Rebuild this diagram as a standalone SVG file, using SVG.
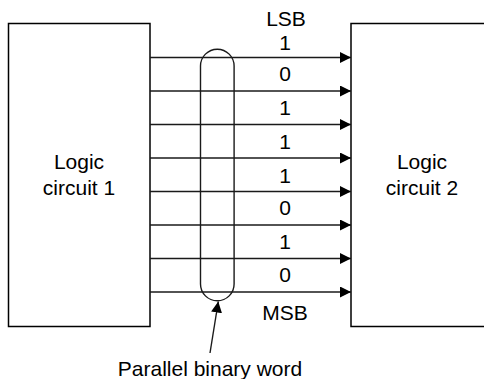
<svg xmlns="http://www.w3.org/2000/svg" width="484" height="379" viewBox="0 0 484 379">
<style>
.box{fill:#fff;stroke:#000;stroke-width:1.5}
.wire{stroke:#1a1a1a;stroke-width:1.4;fill:none}
.t{font-family:"Liberation Sans",Arial,sans-serif;font-size:21px;fill:#000;text-anchor:middle}
</style>
<defs>
<marker id="ah" markerWidth="12" markerHeight="11" refX="11" refY="5.5" orient="auto" markerUnits="userSpaceOnUse">
<path d="M0,0 L11,5.5 L0,11 Z" fill="#000"/>
</marker>
</defs>
<g id="circuit1">
<rect class="box" x="8.5" y="23.5" width="141.5" height="303"/>
<text class="t" x="79" y="168.5">Logic</text>
<text class="t" x="79" y="195">circuit 1</text>
</g>
<g id="circuit2">
<rect class="box" x="351" y="23.5" width="150" height="303"/>
<text class="t" x="422" y="168.5">Logic</text>
<text class="t" x="422" y="195">circuit 2</text>
</g>
<g id="connectors">
<line class="wire" x1="150" y1="57.5" x2="351" y2="57.5" marker-end="url(#ah)"/>
<line class="wire" x1="150" y1="91" x2="351" y2="91" marker-end="url(#ah)"/>
<line class="wire" x1="150" y1="124.5" x2="351" y2="124.5" marker-end="url(#ah)"/>
<line class="wire" x1="150" y1="158" x2="351" y2="158" marker-end="url(#ah)"/>
<line class="wire" x1="150" y1="191.5" x2="351" y2="191.5" marker-end="url(#ah)"/>
<line class="wire" x1="150" y1="225" x2="351" y2="225" marker-end="url(#ah)"/>
<line class="wire" x1="150" y1="258.5" x2="351" y2="258.5" marker-end="url(#ah)"/>
<line class="wire" x1="150" y1="292" x2="351" y2="292" marker-end="url(#ah)"/>
<line class="wire" x1="210" y1="353" x2="218.3" y2="301.5" marker-end="url(#ah)"/>
</g>
<g id="word">
<path class="wire" d="M200.5,66 A16.8,16.8 0 0 1 234.1,66 L234.1,284 A16.8,16.8 0 0 1 200.5,284 Z"/>
</g>
<g id="labels">
<text class="t" x="286" y="26">LSB</text>
<text class="t" x="285" y="50">1</text>
<text class="t" x="285" y="81">0</text>
<text class="t" x="285" y="115">1</text>
<text class="t" x="285" y="148.5">1</text>
<text class="t" x="285" y="182.5">1</text>
<text class="t" x="285" y="215">0</text>
<text class="t" x="285" y="248.5">1</text>
<text class="t" x="285" y="282">0</text>
<text class="t" x="285" y="320">MSB</text>
<text class="t" x="210" y="376">Parallel binary word</text>
</g>
</svg>
